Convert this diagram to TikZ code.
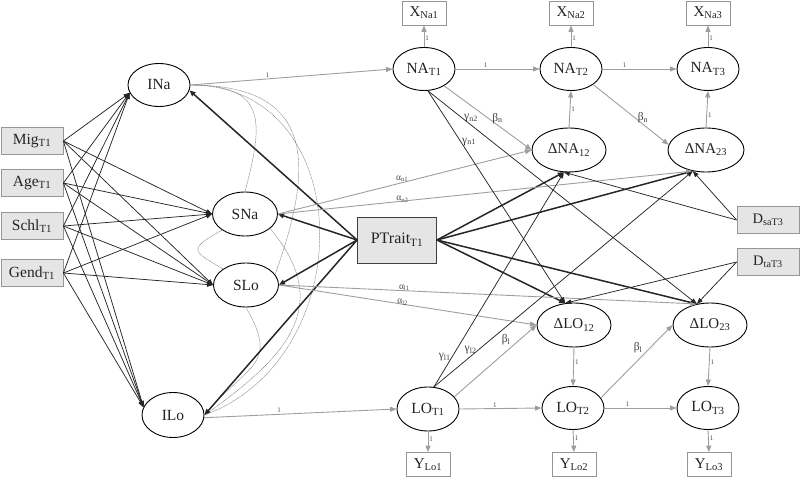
\documentclass[tikz,border=0pt]{standalone}
\usepackage{fontspec}
\usepackage{graphicx}
\setmainfont{Liberation Serif}
\usetikzlibrary{arrows.meta,shapes.geometric}
\definecolor{edgegray}{RGB}{158,158,158}
\definecolor{boxfill}{RGB}{229,229,229}
\definecolor{boxline}{RGB}{150,150,150}
\definecolor{textdark}{RGB}{35,35,35}
\definecolor{covgray}{RGB}{130,130,130}
\newcommand{\sbs}[1]{\textsubscript{#1}}
\newcommand{\fsz}[1]{\fontsize{#1}{#1}\selectfont}
\begin{document}
\begin{tikzpicture}[x=1pt,y=1pt,
  lat/.style={ellipse,draw=black,line width=0.9pt,inner sep=0pt,minimum width=62pt,minimum height=43pt,font=\fsz{15.5pt},text=textdark},
  dlat/.style={lat,minimum width=74pt,minimum height=44pt,font=\fsz{15pt}},
  covbox/.style={rectangle,draw=boxline,fill=boxfill,line width=0.8pt,minimum width=62pt,minimum height=27pt,inner sep=0pt,font=\fsz{15.5pt},text=textdark},
  dbox/.style={covbox,font=\fsz{14.5pt}},
  obs/.style={rectangle,draw=boxline,fill=white,line width=0.8pt,minimum width=44pt,minimum height=24pt,inner sep=0pt,font=\fsz{15pt},text=textdark},
  ptbox/.style={rectangle,draw=black!75,fill=boxfill,line width=0.9pt,minimum width=79pt,minimum height=46pt,inner sep=0pt,font=\fsz{16pt},text=textdark},
  blk/.style={draw=black!85,line width=0.75pt,-{Triangle[length=6pt,width=4.5pt]}},
  thk/.style={draw=black!85,line width=1.5pt,-{Triangle[length=6pt,width=5pt]}},
  gry/.style={draw=edgegray,line width=0.9pt,-{Triangle[length=6.5pt,width=5pt]}},
  covar/.style={draw=covgray,line width=0.45pt,dash pattern=on 1pt off 0.5pt},
  one/.style={font=\fsz{7pt},text=black!70,inner sep=1pt},
  glab/.style={font=\fsz{11.5pt},text=black!75,inner sep=1pt},
  alab/.style={font=\fsz{9.5pt},text=black!70,inner sep=0.5pt}
]
\useasboundingbox (0,0) rectangle (800,-478);

% latent factors left
\node[lat] (INa) at (159,-85) {INa};
\node[lat,minimum width=65pt,minimum height=44pt] (SNa) at (245,-214) {SNa};
\node[lat,minimum width=65pt,minimum height=44pt] (SLo) at (246,-285) {SLo};
\node[lat,minimum height=45pt] (ILo) at (173,-415) {ILo};

% covariates
\node[covbox] (Mig) at (32,-141) {Mig\sbs{T1}};
\node[covbox] (Age) at (32,-183) {Age\sbs{T1}};
\node[covbox] (Schl) at (32,-226) {Schl\sbs{T1}};
\node[covbox] (Gend) at (32,-273) {Gend\sbs{T1}};

\node[ptbox] (PT) at (397,-240) {PTrait\sbs{T1}};

% NA chain
\node[lat] (NA1) at (424,-69) {NA\sbs{T1}};
\node[lat] (NA2) at (571,-69) {NA\sbs{T2}};
\node[lat] (NA3) at (708,-69) {NA\sbs{T3}};
\node[obs] (X1) at (424,-13) {X\sbs{Na1}};
\node[obs] (X2) at (571,-13) {X\sbs{Na2}};
\node[obs] (X3) at (708,-13) {X\sbs{Na3}};
\node[dlat] (dNA12) at (569,-150) {ΔNA\sbs{12}};
\node[dlat,minimum width=76pt] (dNA23) at (706,-150) {ΔNA\sbs{23}};

\node[dbox] (Dsa) at (768,-220) {D\sbs{saT3}};
\node[dbox] (Dta) at (768,-262) {D\sbs{taT3}};

% LO chain
\node[dlat] (dLO12) at (574,-325) {ΔLO\sbs{12}};
\node[dlat] (dLO23) at (710,-325) {ΔLO\sbs{23}};
\node[lat,minimum height=44pt] (LO1) at (428,-409) {LO\sbs{T1}};
\node[lat] (LO2) at (573,-408) {LO\sbs{T2}};
\node[lat] (LO3) at (708,-408) {LO\sbs{T3}};
\node[obs] (Y1) at (428,-464.5) {Y\sbs{Lo1}};
\node[obs] (Y2) at (574,-464.5) {Y\sbs{Lo2}};
\node[obs] (Y3) at (709,-464.5) {Y\sbs{Lo3}};

% covariances
\draw[covar] (INa.east) to[out=0,in=75,looseness=1.6] (SNa.north);
\draw[covar] (INa.east) to[out=0,in=70,looseness=1.5] (SLo.20);
\draw[covar] (INa.east) to[out=0,in=20,looseness=1.3] (ILo.east);
\draw[covar] (SNa.-30) to[out=-50,in=35,looseness=1.3] (ILo.east);
\draw[covar] (SLo.south) to[out=-60,in=50,looseness=1.5] (ILo.east);
\draw[covar] (SNa.215) to[out=-150,in=150,looseness=2.5] (SLo.145);

% covariate effects
\foreach \c in {Mig,Age,Schl,Gend}{
  \draw[blk] (\c.east) -- (INa.195);
  \draw[blk] (\c.east) -- (SNa.west);
  \draw[blk] (\c.east) -- (SLo.west);
  \draw[blk] (\c.east) -- (ILo.165);
}

% trait effects
\draw[thk] (PT.west) -- (INa.-10);
\draw[thk] (PT.west) -- (SNa.east);
\draw[thk] (PT.west) -- (SLo.east);
\draw[thk] (PT.west) -- (ILo.east);
\draw[thk] (PT.east) -- (dNA12.-103);
\draw[thk] (PT.east) -- (dNA23.-122);
\draw[thk] (PT.east) -- (dLO12.112);
\draw[thk] (PT.east) -- (dLO23.122);

% fixed loadings
\draw[gry] (INa.east) -- node[one,pos=0.38,above] (l01) {1} (NA1.west);
\draw[gry] (ILo.-5) -- node[one,pos=0.39,above] (l02) {1} (LO1.west);
\draw[gry] (NA1.east) -- node[one,pos=0.36,above] (l03) {1} (NA2.west);
\draw[gry] (NA2.east) -- node[one,pos=0.3,above] (l04) {1} (NA3.west);
\draw[gry] (LO1.east) -- node[one,pos=0.43,above] (l05) {1} (LO2.west);
\draw[gry] (LO2.east) -- node[one,pos=0.32,above] (l06) {1} (LO3.west);
\draw[gry] (NA1.north) -- node[one,pos=0.42,right] (l07) {1} (X1.south);
\draw[gry] (NA2.north) -- node[one,pos=0.42,right] (l08) {1} (X2.south);
\draw[gry] (NA3.north) -- node[one,pos=0.42,right] (l09) {1} (X3.south);
\draw[gry] (dNA12.north) -- node[one,pos=0.5,right] (l10) {1} (NA2.south);
\draw[gry] (dNA23.north) -- node[one,pos=0.35,right] (l11) {1} (NA3.south);
\draw[gry] (dLO12.south) -- node[one,pos=0.37,right] (l12) {1} (LO2.north);
\draw[gry] (dLO23.south) -- node[one,pos=0.37,right] (l13) {1} (LO3.north);
\draw[gry] (LO1.south) -- node[one,pos=0.36,right] (l14) {1} (Y1.north);
\draw[gry] (LO2.south) -- node[one,pos=0.36,right] (l15) {1} (Y2.north);
\draw[gry] (LO3.south) -- node[one,pos=0.36,right] (l16) {1} (Y3.north);

% autoregressive / state effects
\draw[gry] (NA1.-40) -- node[glab,pos=0.61,above] (bn1) {β\sbs{n}} (dNA12.west);
\draw[gry] (NA2.-35) -- node[glab,pos=0.66,above] (bn2) {β\sbs{n}} (dNA23.172);
\draw[gry] (LO1.25) -- node[glab,pos=0.7,above left] (bl1) {β\sbs{l}} (dLO12.west);
\draw[gry] (LO2.20) -- node[glab,pos=0.6,above left] (bl2) {β\sbs{l}} (dLO23.west);
\draw[gry] (SNa.east) -- node[alab,pos=0.49,above] (an1) {α\sbs{n1}} (dNA12.west);
\draw[gry] (SNa.east) -- node[alab,pos=0.3,yshift=2pt] (an2) {α\sbs{n2}} (dNA23.-122);
\draw[gry] (SLo.east) -- node[alab,pos=0.3,yshift=3pt] (al1) {α\sbs{l1}} (dLO23.122);
\draw[gry] (SLo.east) -- node[alab,pos=0.48,yshift=2pt] (al2) {α\sbs{l2}} (dLO12.west);

% cross-lagged
\draw[blk] (NA1.-80) -- node[glab,pos=0.24,right] (gn1) {γ\sbs{n1}} (dLO12.112);
\draw[blk] (NA1.-80) -- node[glab,pos=0.13,right] (gn2) {γ\sbs{n2}} (dLO23.122);
\draw[blk] (LO1.75) -- node[glab,pos=0.14,left] (gl1) {γ\sbs{l1}} (dNA12.-103);
\draw[blk] (LO1.75) -- node[glab,pos=0.17,left] (gl2) {γ\sbs{l2}} (dNA23.-122);

% dummies
\draw[blk] (Dsa.west) -- (dNA12.-103);
\draw[blk] (Dsa.west) -- (dNA23.-122);
\draw[blk] (Dta.west) -- (dLO12.112);
\draw[blk] (Dta.west) -- (dLO23.122);
\end{tikzpicture}
\end{document}
